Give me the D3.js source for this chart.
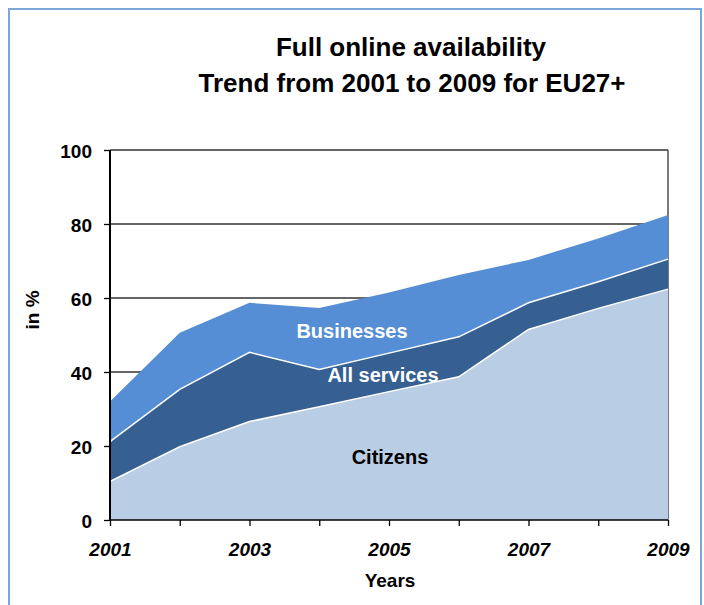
<!doctype html>
<html lang="en">
<head>
    <meta charset="UTF-8">
    <title>Full online availability</title>
    <style>
      body { margin: 0; background: #fff; }
      text { font-family: "Liberation Sans", Arial, sans-serif; font-weight: bold; }
    </style>
</head>
<body>
<div class="container"></div>

<script src="https://d3js.org/d3.v7.min.js"></script>

<script>
  const years = [2001, 2002, 2003, 2004, 2005, 2006, 2007, 2008, 2009];
  const businesses = [32.0, 50.6, 58.7, 57.3, 61.5, 66.2, 70.3, 76.1, 82.4];
  const allServices = [21.2, 35.3, 45.3, 40.7, 45.1, 49.5, 58.7, 64.4, 70.5];
  const citizens = [10.4, 19.8, 26.6, 30.6, 34.7, 38.7, 51.5, 57.2, 62.4];
  const yTicks = [0, 20, 40, 60, 80, 100];
  const xLabels = [2001, 2003, 2005, 2007, 2009];

  const SVG_WIDTH = 704;
  const SVG_HEIGHT = 605;

  const svg = d3.select('.container')
    .append('svg')
    .attr('width', SVG_WIDTH)
    .attr('height', SVG_HEIGHT)

  // outer frame (bottom edge runs off the picture)
  svg.append('rect')
    .attr('x', 9).attr('y', 9)
    .attr('width', 692).attr('height', 640)
    .attr('fill', 'none')
    .attr('stroke', '#7ea6d9')
    .attr('stroke-width', 2)

  const x = d3.scaleLinear().domain([2001, 2009]).range([110, 668]);
  const y = d3.scaleLinear().domain([0, 100]).range([520, 150]);

  // title
  const title = svg.append('text')
    .attr('text-anchor', 'middle')
    .style('font-size', '26px')
  title.append('tspan').attr('x', 411).attr('y', 56).text('Full online availability')
  title.append('tspan').attr('x', 412).attr('y', 92).text('Trend from 2001 to 2009 for EU27+')

  // gridlines + plot border behind the areas
  svg.append('g')
    .selectAll('line')
    .data(yTicks.filter(d => d > 0))
    .join('line')
    .attr('x1', x(2001)).attr('x2', x(2009))
    .attr('y1', d => y(d)).attr('y2', d => y(d))
    .attr('stroke', '#333')
    .attr('stroke-width', 1.3)
  svg.append('line')
    .attr('x1', x(2009)).attr('x2', x(2009))
    .attr('y1', y(100)).attr('y2', y(0))
    .attr('stroke', '#333')
    .attr('stroke-width', 1.3)

  const series = [
    { name: 'Businesses', values: businesses, fill: '#558ed5', edge: false },
    { name: 'All services', values: allServices, fill: '#376092', edge: true },
    { name: 'Citizens', values: citizens, fill: '#b9cde5', edge: true },
  ];

  const area = d3.area()
    .x((d, i) => x(years[i]))
    .y0(y(0))
    .y1(d => y(d));
  const line = d3.line()
    .x((d, i) => x(years[i]))
    .y(d => y(d));

  series.forEach(s => {
    svg.append('path')
      .attr('d', area(s.values))
      .attr('fill', s.fill)
    if (s.edge) {
      svg.append('path')
        .attr('d', line(s.values))
        .attr('fill', 'none')
        .attr('stroke', '#fff')
        .attr('stroke-width', 1.5)
    }
  });

  // series labels
  svg.append('text').attr('x', 352).attr('y', 338).attr('text-anchor', 'middle')
    .style('font-size', '20px').attr('fill', '#fff').text('Businesses')
  svg.append('text').attr('x', 383).attr('y', 382).attr('text-anchor', 'middle')
    .style('font-size', '20px').attr('fill', '#fff').text('All services')
  svg.append('text').attr('x', 390).attr('y', 464).attr('text-anchor', 'middle')
    .style('font-size', '20px').attr('fill', '#000').text('Citizens')

  // axes
  const yAxis = d3.axisLeft(y)
    .tickValues(yTicks)
    .tickSize(6)
    .tickPadding(12);
  const yAxisGroup = svg.append('g')
    .attr('transform', `translate(${x(2001)}, 0)`)
    .call(yAxis);
  yAxisGroup.select('.domain').attr('stroke', '#000').attr('stroke-width', 2)
    .attr('d', `M0,${y(100)}V${y(0)}`)
  yAxisGroup.selectAll('.tick line').attr('stroke', '#000').attr('stroke-width', 1.3)
  yAxisGroup.selectAll('text')
    .attr('dy', '0.42em')
    .style('font-size', '19px')
    .style('font-family', '"Liberation Sans", Arial, sans-serif')
    .style('font-weight', 'bold')
    .attr('fill', '#000')

  const xAxis = d3.axisBottom(x)
    .tickValues(years)
    .tickSize(6)
    .tickPadding(17)
    .tickFormat(d => xLabels.includes(d) ? String(d) : '');
  const xAxisGroup = svg.append('g')
    .attr('transform', `translate(0, ${y(0)})`)
    .call(xAxis);
  xAxisGroup.select('.domain').attr('stroke', '#000').attr('stroke-width', 1.5)
    .attr('d', `M${x(2001)},0H${x(2009)}`)
  xAxisGroup.selectAll('.tick line').attr('stroke', '#000').attr('stroke-width', 1.3)
  xAxisGroup.selectAll('text')
    .style('font-size', '19px')
    .style('font-family', '"Liberation Sans", Arial, sans-serif')
    .style('font-weight', 'bold')
    .style('font-style', 'italic')
    .attr('fill', '#000')

  // axis titles
  svg.append('text')
    .attr('x', 390).attr('y', 587)
    .attr('text-anchor', 'middle')
    .style('font-size', '19px')
    .text('Years')
  svg.append('text')
    .attr('transform', 'translate(39, 310) rotate(-90)')
    .attr('text-anchor', 'middle')
    .style('font-size', '19px')
    .text('in %')
</script>
</body>
</html>
